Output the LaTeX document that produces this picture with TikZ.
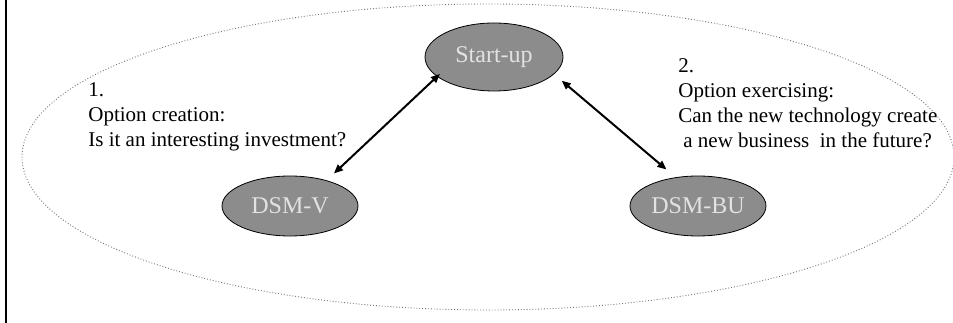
\documentclass[tikz,border=0pt]{standalone}
\usepackage{fontspec}
\setmainfont{Liberation Serif}
\usetikzlibrary{shapes.geometric,arrows.meta}

\definecolor{nodegray}{HTML}{8C8C8C}
\definecolor{labelgray}{HTML}{E2E2E2}

\begin{document}
\begin{tikzpicture}[x=1pt,y=1pt,line width=.8pt,
  unit/.style={ellipse,draw=black,fill=nodegray,text=labelgray,inner sep=0pt,
    font=\fontsize{24}{28}\selectfont},
  note/.style={align=left,inner sep=0pt,anchor=base west,
    font=\fontsize{21}{25.3}\selectfont},
  link/.style={line width=2pt,{Triangle[length=9pt,width=7.5pt]}-{Triangle[length=9pt,width=7.5pt]}}]
\useasboundingbox (0,0) rectangle (953,323);
\draw[line width=2.3pt] (6,0)--(6,323);
\draw[black!55,dotted,line width=.9pt] (488,166) ellipse [x radius=466,y radius=153];
\node[unit,minimum width=138pt,minimum height=68pt] (startup) at (494,266) {Start-up};
\node[unit,minimum width=136pt,minimum height=60pt] (dsmv) at (290,117) {DSM-V};
\node[unit,minimum width=136pt,minimum height=60pt] (dsmbu) at (698,117) {DSM-BU};
% base of a multi-line note is its last line
\node[note] (creation) at (88,176) {1.\\Option creation:\\Is it an interesting investment?};
\node[note] (exercising) at (678,175) {2.\\Option exercising:\\Can the new technology create\\\hspace*{5pt}a new business\ \ in the future?};
\draw[link,shorten <=10pt,shorten >=-4pt] (dsmv.35)--(startup.199);
\draw[link,shorten <=10pt,shorten >=12pt] (startup.344)--(dsmbu.128);
\end{tikzpicture}
\end{document}
